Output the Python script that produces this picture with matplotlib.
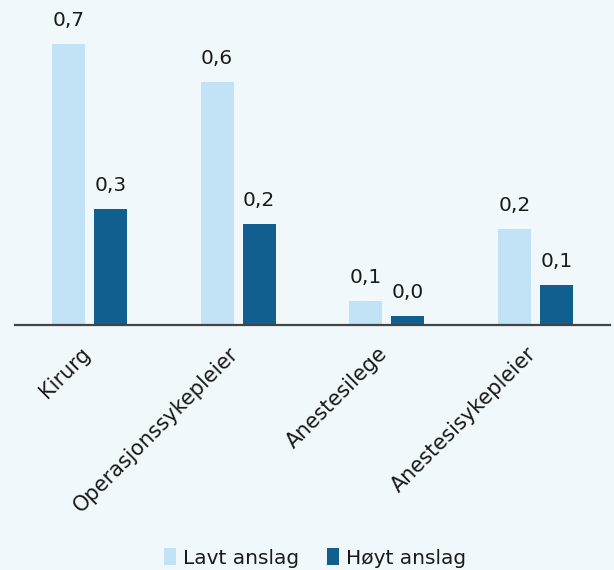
import matplotlib.pyplot as plt
import numpy as np

# Categories and the two estimates per category
categories = ['Kirurg', 'Operasjonssykepleier', 'Anestesilege', 'Anestesisykepleier']
lavt = [0.67, 0.58, 0.057, 0.23]
hoyt = [0.277, 0.241, 0.021, 0.095]
series_names = ['Lavt anslag', 'Høyt anslag']

BG = '#f1f8fc'
LIGHT = '#c2e3f6'
DARK = '#115f8f'
TEXT = '#1a1a1a'

plt.rcParams['font.family'] = ['DejaVu Sans']

fig = plt.figure(figsize=(6.14, 5.70), dpi=100, facecolor=BG)
ax = fig.add_axes([15 / 614, 1 - 325 / 570, 595 / 614, 325 / 570])
ax.set_facecolor(BG)

x = np.arange(len(categories))
width = 0.222
offset = 0.1413

bars_lo = ax.bar(x - offset, lavt, width, color=LIGHT, label=series_names[0])
bars_hi = ax.bar(x + offset, hoyt, width, color=DARK, label=series_names[1])

# Value labels above each bar, Norwegian decimal comma
for bars in (bars_lo, bars_hi):
    for b in bars:
        h = b.get_height()
        ax.annotate(f'{h:.1f}'.replace('.', ','),
                    (b.get_x() + b.get_width() / 2, h),
                    xytext=(0, 10), textcoords='offset points',
                    ha='center', va='bottom', fontsize=14.5, color=TEXT)

ax.set_xlim(-0.5, 3.5)
ax.set_ylim(0, 325 / 419)

for side in ('top', 'right', 'left'):
    ax.spines[side].set_visible(False)
ax.spines['bottom'].set_color('#444444')
ax.spines['bottom'].set_linewidth(1.6)
ax.set_yticks([])

# Rotated category labels end just right of each group centre
ax.set_xticks(x - 0.064)
ax.set_xticklabels(categories, rotation=45, ha='right', va='top',
                   rotation_mode='anchor', fontsize=15, color=TEXT)
ax.tick_params(axis='x', length=0, pad=13)

fig.legend(handles=[bars_lo, bars_hi], labels=series_names,
           loc='center', bbox_to_anchor=(315 / 614, 1 - 558 / 570),
           ncol=2, frameon=False, fontsize=14.5, handlelength=0.6,
           handleheight=0.9, handletextpad=0.35, columnspacing=1.4,
           labelcolor=TEXT)

fig.savefig('out.png', dpi=100, facecolor=BG)
